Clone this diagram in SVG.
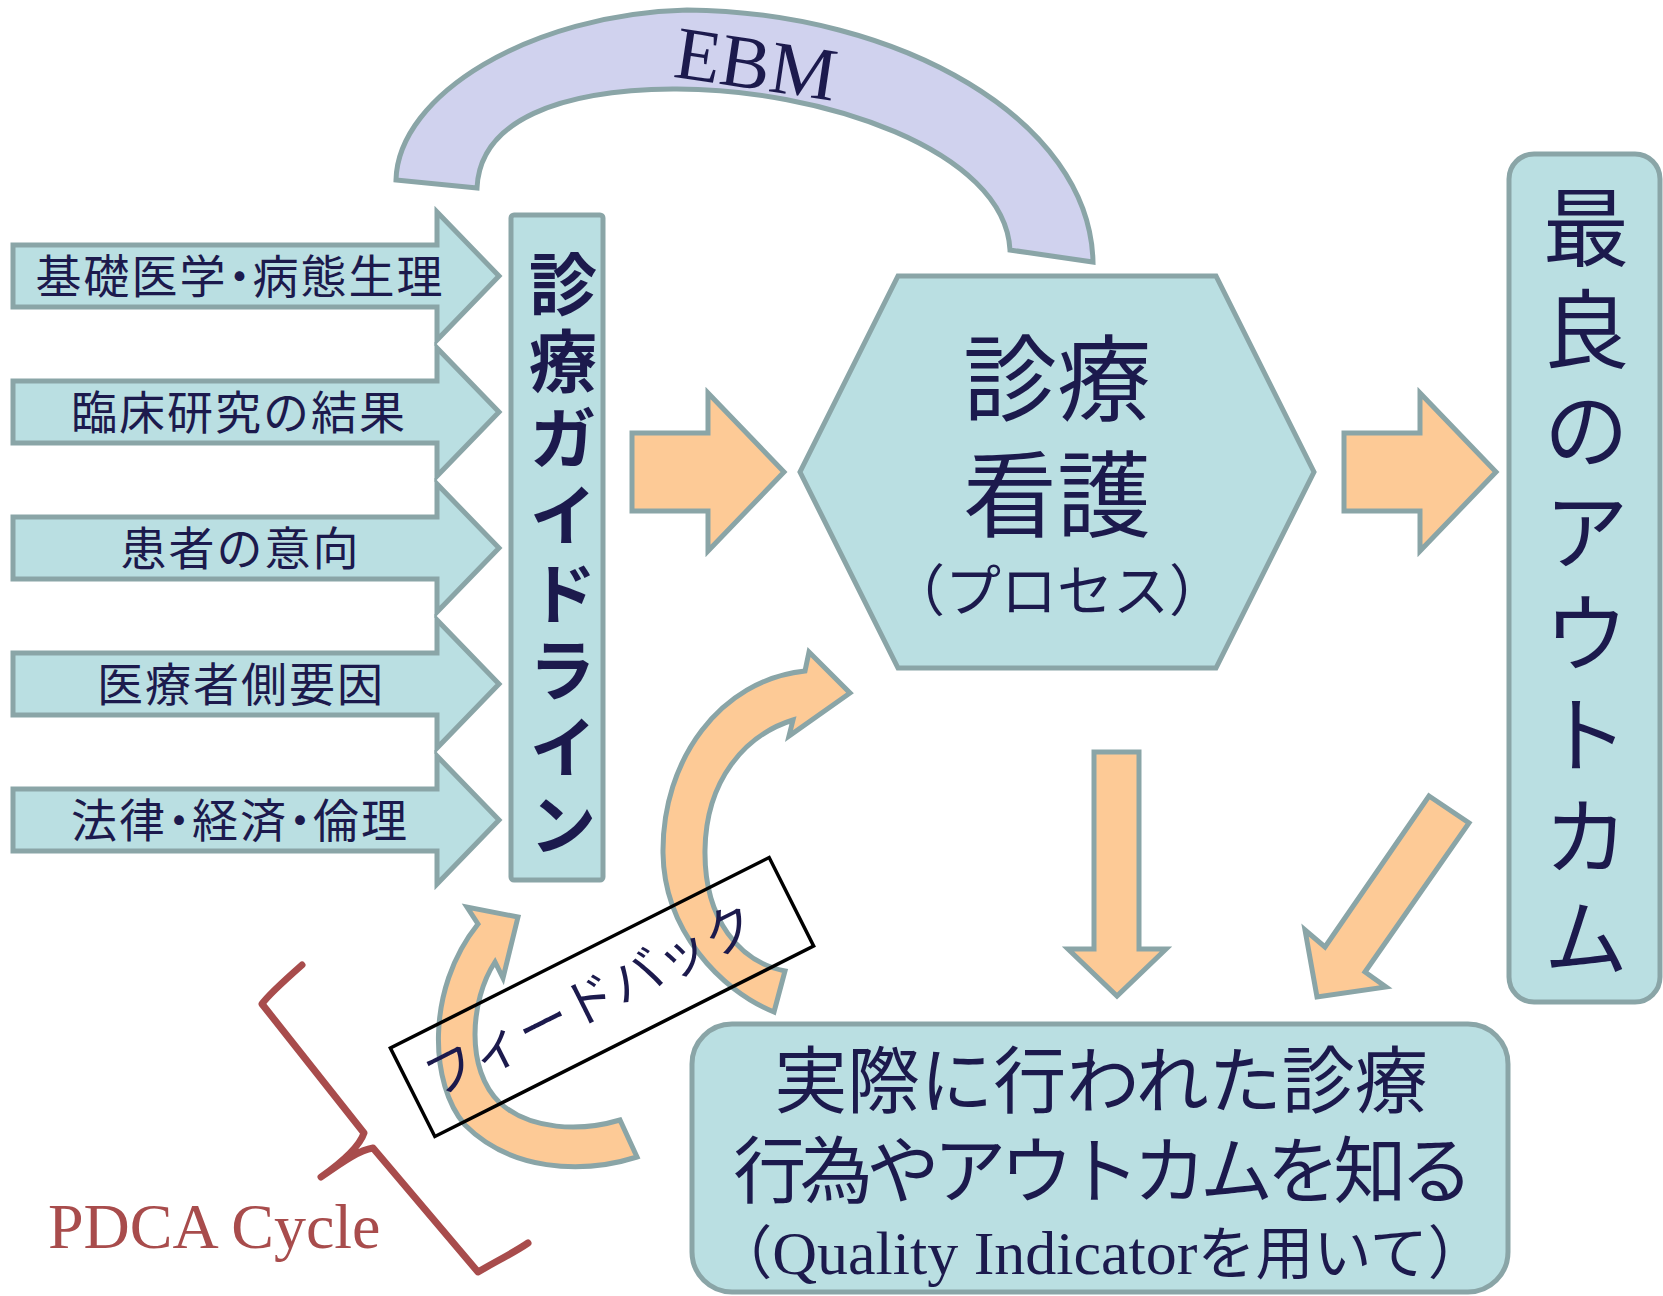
<svg xmlns="http://www.w3.org/2000/svg" width="1663" height="1296" viewBox="0 0 1663 1296">
<style>
.box{fill:#badfe2;stroke:#8aa5a7;stroke-width:5;stroke-linejoin:miter}
.org{fill:#fdca96;stroke:#8aa5a7;stroke-width:5;stroke-linejoin:miter}
.ebm{fill:#d0d2ee;stroke:#8aa5a7;stroke-width:5}
.jp{font-family:"Noto Sans CJK JP","Noto Sans CJK SC",sans-serif;fill:#1c1a4d}
.lbl{font-size:46px;letter-spacing:2px}
.ser{font-family:"Liberation Serif","Times New Roman",serif}
.vt{writing-mode:vertical-rl}
</style>
<rect width="1663" height="1296" fill="#ffffff"/>

<g id="ebm">
<path class="ebm" d="M396,180 C398,95 530,14 687,10 C900,12 1090,120 1093,262 L1010,250 C1005,150 820,88 673,89 C560,90 480,120 477,188 Z"/>
<text class="ser" transform="translate(756,64) rotate(8.5)" x="0" y="25" text-anchor="middle" font-size="75" fill="#1c1a4d">EBM</text>
</g>

<g id="connectors">
<polygon class="box" points="13,245 437,245 437,212 499,276 437,340 437,307 13,307"/>
<polygon class="box" points="13,381 437,381 437,348 499,412 437,476 437,443 13,443"/>
<polygon class="box" points="13,517 437,517 437,484 499,548 437,612 437,579 13,579"/>
<polygon class="box" points="13,653 437,653 437,620 499,684 437,748 437,715 13,715"/>
<polygon class="box" points="13,789 437,789 437,756 499,820 437,884 437,851 13,851"/>
<polygon class="org" points="632,433 708,433 708,393 784,472 708,551 708,511 632,511"/>
<polygon class="org" points="1344,433 1420,433 1420,393 1496,472 1420,551 1420,511 1344,511"/>
<polygon class="org" points="1094,752 1139,752 1139,949 1166,949 1117,996 1068,949 1094,949"/>
<polygon class="org" points="1429,796 1469,823 1365,972 1386,987 1317,997 1305,930 1325,947"/>
<path id="fb-large" class="org" d="M774,1012 C720,990 664,930 663,853 C662,760 720,680 805,671 L809,652 L850,693 L789,736 L793,720 C745,735 706,780 705,850 C704,920 740,962 785,971 Z"/>
<path id="fb-small" class="org" d="M518,917 L503,978 L495,962 C470,1000 465,1070 500,1103 C530,1130 580,1132 620,1120 L637,1157 C580,1175 510,1170 465,1125 C430,1085 425,990 478,924 L467,907 Z"/>
</g>

<g id="inputs" class="jp lbl">
<text x="35.5" y="293" dx="0 0 0 0 -11 -12 0 0 0">基礎医学・病態生理</text>
<text x="71" y="429">臨床研究の結果</text>
<text x="120.5" y="565">患者の意向</text>
<text x="97" y="701">医療者側要因</text>
<text x="71" y="837" dx="0 0 -11 -12 0 -11 -12 0">法律・経済・倫理</text>
</g>

<g id="guideline">
<rect class="box" x="511" y="215" width="92" height="665" rx="3"/>
<text class="jp vt" x="563" y="250" font-size="68" font-weight="bold" letter-spacing="9.2">診療ガイドライン</text>
</g>

<g id="process">
<polygon class="box" points="898,276 1216,276 1314,472 1216,668 898,668 800,472"/>
<text class="jp" text-anchor="middle"><tspan x="1057" y="414" font-size="94">診療</tspan><tspan x="1057" y="530" font-size="94">看護</tspan><tspan x="1057" y="611" font-size="56">（プロセス）</tspan></text>
</g>

<g id="outcome">
<rect class="box" x="1509" y="154" width="151" height="848" rx="25"/>
<text class="jp vt" x="1586" y="184.5" font-size="86" letter-spacing="15.4">最良のアウトカム</text>
</g>

<g id="actual">
<rect class="box" x="692" y="1024" width="816" height="268" rx="40"/>
<text class="jp" text-anchor="middle"><tspan x="1101" y="1107" font-size="73">実際に行われた診療</tspan><tspan x="1100" y="1197" font-size="73" letter-spacing="-6.3">行為やアウトカムを知る</tspan><tspan x="1100" y="1274" font-size="58">（<tspan class="ser" font-size="62">Quality Indicator</tspan>を用いて）</tspan></text>
</g>

<g id="feedback" transform="translate(602,997) rotate(-26.7)">
<rect x="-212" y="-49.5" width="424" height="99" fill="none" stroke="#000000" stroke-width="3.5"/>
<text class="jp" x="-12" y="16" font-size="52" text-anchor="middle">フィードバック</text>
</g>

<g id="pdca">
<path d="M302,965 C285,980 268,995 262,1004 L364,1133 C360,1145 345,1160 321,1177 C345,1160 360,1150 373,1148 L478,1272 C495,1262 515,1252 528,1243" fill="none" stroke="#a84c4c" stroke-width="7" stroke-linecap="round" stroke-linejoin="round"/>
<text class="ser" x="48" y="1248" font-size="64" fill="#a84c4c">PDCA Cycle</text>
</g>
</svg>
